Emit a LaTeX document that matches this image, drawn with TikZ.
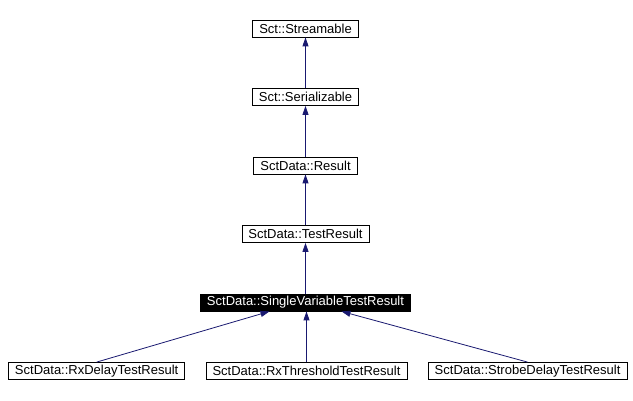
\documentclass[tikz,border=0pt]{standalone}
\usepackage{fontspec}
\setmainfont{Liberation Sans}
\usetikzlibrary{arrows.meta}
\usetikzlibrary{positioning}
\definecolor{edgeblue}{RGB}{25,25,112}

\begin{document}
\begin{tikzpicture}[x=1pt, y=1pt,
    every node/.style={rectangle, draw, line width=0.8pt, font=\fontsize{13}{15}\selectfont,
      minimum height=17pt, inner xsep=6.5pt, inner ysep=0pt},
    node distance=50.7pt,
    inherit/.style={draw=edgeblue, line width=0.8pt, -{Triangle[length=9pt, width=6pt]}}]
    \useasboundingbox (0,0) rectangle (633,-401);
    \node (svtr) [fill=black, text=white] at (305.5,-302.5) {SctData::SingleVariableTestResult};
    \node (tr) [above=of svtr] {SctData::TestResult};
    \node (res) [above=of tr] {SctData::Result};
    \node (ser) [above=of res] {Sct::Serializable};
    \node (str) [above=of ser] {Sct::Streamable};
    \node (rxth) [below=of svtr, xshift=1pt] {SctData::RxThresholdTestResult};
    \node (rxdel) [left=20.5pt of rxth] {SctData::RxDelayTestResult};
    \node (strobe) [right=20.5pt of rxth] {SctData::StrobeDelayTestResult};

    \draw[inherit] (ser) -- (str);
    \draw[inherit] (res) -- (ser);
    \draw[inherit] (tr) -- (res);
    \draw[inherit] (svtr) -- (tr);
    \draw[inherit] (rxdel.north) -- ([xshift=-36pt]svtr.south);
    \draw[inherit] (rxth.north) -- (rxth.north |- svtr.south);
    \draw[inherit] (strobe.north) -- ([xshift=36pt]svtr.south);
\end{tikzpicture}
\end{document}
